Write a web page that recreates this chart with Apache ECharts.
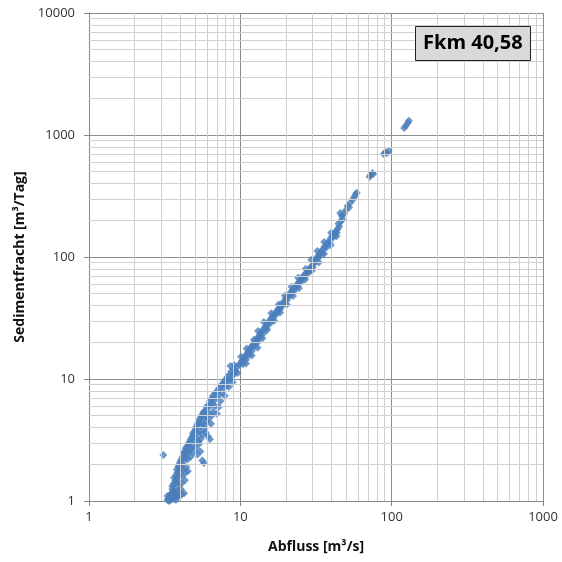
<!DOCTYPE html>
<html>
<head>
<meta charset="utf-8">
<script src="https://cdn.jsdelivr.net/npm/echarts@6/dist/echarts.min.js"></script>
<style>
  html, body { margin: 0; padding: 0; background: #fff; }
  #chart { width: 562px; height: 562px; }
</style>
</head>
<body>
<div id="chart"></div>
<script>
// [Abfluss m3/s, Sedimentfracht m3/Tag]
const lowBand = [
  [3.3,1.02],[3.35,1.05],[3.4,1.01],[3.45,1.08],[3.5,1.03],[3.55,1.1],[3.6,1.04],[3.42,1.12],
  [3.38,1.0],[3.65,1.07],[3.7,1.12],[3.75,1.02],[3.8,1.09],[3.5,1.15],[3.6,1.2],[3.68,1.18],
  [3.85,1.14],[3.95,1.1],[4.1,1.13],[4.25,1.16],[3.3,1.1],[3.55,1.25],[3.72,1.27],[3.9,1.22],
  [4.05,1.25],[3.55,1.32],[3.62,1.38],[3.7,1.45],[3.78,1.5],[3.85,1.42],[3.95,1.36],[4.1,1.4],
  [4.3,1.48],[3.65,1.55],[3.75,1.62],[3.82,1.7],[3.9,1.58],[4.0,1.65],[4.15,1.6],[4.35,1.72],
  [3.8,1.8],[3.88,1.9],[3.95,1.78],[4.05,1.86],[4.2,1.82],[4.4,1.9],[4.5,1.75],[3.92,1.98],
  [4.1,2.0],[4.0,2.1],[4.08,2.2],[4.15,2.3],[4.25,2.15],[4.35,2.25],[4.5,2.2],[4.7,2.3],
  [5.6,2.15],[5.75,2.05],[4.2,2.45],[4.28,2.55],[4.38,2.4],[4.5,2.5],[4.65,2.6],[4.85,2.5],
  [5.2,2.4],[5.45,2.55],[4.35,2.7],[4.45,2.8],[4.55,2.9],[4.7,2.75],[4.9,2.85],[5.1,2.7],
  [5.35,2.95],[3.1,2.38]
];
const midBand = [
  [4.6,3.05],[4.7,3.2],[4.8,3.35],[4.95,3.15],[5.1,3.3],[5.3,3.1],[5.5,3.25],[6.3,3.2],
  [6.1,3.4],[4.85,3.55],[4.95,3.7],[5.05,3.85],[5.2,3.6],[5.4,3.75],[5.6,3.5],[5.8,3.9],
  [5.9,3.65],[5.1,4.05],[5.2,4.25],[5.3,4.45],[5.45,4.15],[5.6,4.35],[5.8,4.2],[6.0,4.5],
  [6.4,4.3],[5.4,4.7],[5.5,4.9],[5.6,5.1],[5.75,4.8],[5.95,5.0],[6.2,4.75],[6.5,5.05],
  [5.7,5.35],[5.85,5.5],[6.1,5.3],[6.6,5.4],[7.0,5.2],[6.0,5.8],[6.1,6.1],[6.3,6.0],
  [6.5,6.3],[6.8,6.0],[7.2,5.9],[6.3,6.6],[6.45,6.9],[6.7,6.7],[7.0,7.0],[7.4,6.6],
  [6.6,7.3],[6.8,7.6],[7.0,7.9],[7.2,7.4],[7.6,7.7],[7.9,7.3],[7.2,8.3],[7.4,8.7],
  [7.6,9.1],[7.85,8.5],[8.1,8.9],[8.4,8.6],[7.8,9.5],[8.0,9.9],[8.3,9.6],[8.6,10.0],
  [8.9,9.4],[8.2,10.4],[8.5,10.9],[8.8,10.6],[9.1,11.0],[8.7,11.5],[9.0,12.0],[9.3,11.6],
  [9.6,11.2],[8.6,12.8],[9.5,12.5],[9.8,13.1],[10.1,13.6],[10.4,13.2],[10.3,14.2],[10.6,14.8],
  [10.9,14.4],[10.8,15.5],[11.1,16.1],[11.4,15.7],[11.3,16.8],[11.6,17.5],[11.9,17.0],[11.8,18.3],
  [12.1,19.0],[12.4,18.5],[12.3,19.8],[12.7,20.5],[13.0,19.9],[12.9,21.4],[13.2,22.3],[13.5,21.8],
  [13.5,23.4],[13.8,24.4],[14.2,23.7],[14.2,25.6],[14.6,26.8],[14.9,26.0],[15.0,28.0],[15.4,29.3],
  [15.7,28.5],[15.8,30.7],[16.2,32.0],[16.5,31.2],[16.7,33.6],[17.1,35.0],[17.4,34.1],[17.6,36.6],
  [18.0,38.2],[18.3,37.3],[18.6,39.8],
  [10.9,13.4],[11.9,15.6],[13.0,18.0],[14.0,21.6],[15.0,25.2],[16.7,30.0],[18.3,35.0],
  [9.1,13.0],[10.1,15.2],[11.0,17.8],[12.3,21.0],[13.1,24.8],[14.3,29.3],[16.0,34.6]
];
const highBand = [
  [18.9,41.5],[19.3,40.6],[19.5,43.4],[19.9,45.3],[20.3,44.2],[20.6,47.4],[21.0,49.5],[21.4,48.3],
  [21.7,51.8],[22.2,54.0],[22.6,52.7],[23.0,56.5],[23.5,59.0],[23.9,57.6],[24.3,61.7],[24.8,64.5],
  [25.3,63.0],[25.7,67.4],[26.2,70.4],[26.8,68.8],[27.2,73.6],[27.8,76.9],[28.4,75.1],[28.9,80.4],
  [29.5,84.0],[30.1,82.1],[30.6,87.8],[31.0,92],[31.8,96],[32.3,101],[33.0,99],[33.4,106],
  [34.2,111],[34.8,108],[35.3,117],[36.1,122],[36.9,119],[37.4,128],[38.3,134],[39.0,131],
  [39.5,142],[40.4,148],[41.2,145],[41.7,155],[42.6,162],[43.4,158],[44.0,170],[45.0,178],
  [44.5,188],[46.2,195],[47.2,205],[46.8,218],[45.7,229],[48.5,226],[49.8,242],[51.0,262],
  [52.3,255],[53.5,280],[55.5,298],[56.8,312],[57.8,327],[58.8,336],[71.5,455],[72.6,470],
  [74.5,489],[75.5,478],[88.5,699],[91.0,722],[93.0,710],[95.5,739],[121,1141],[124,1190],
  [127.7,1254],[130,1310],
  [20.3,40.8],[22.3,48.0],[24.4,55.5],[26.8,65.5],[29.7,77.0],[33.0,90.0],[35.7,106],[39.5,125],[43.2,148],
  [17.9,40.8],[19.7,48.2],[21.8,57.0],[24.1,67.6],[27.0,80.0],[29.4,95.0],[32.3,112],[35.8,133],[39.8,158]
];

// minor gridline positions
const xMinor = [2,3,4,5,6,7,8,9,20,30,40,50,60,70,80,90,200,300,400,500,600,700,800,900];
const yMinor = [2,3,4,5,6,7,8,9,20,30,40,50,60,70,80,90,200,300,400,500,600,700,800,900,
  2000,3000,4000,5000,6000,7000,8000,9000];

const font = 'Open Sans';
const chart = echarts.init(document.getElementById('chart'));
chart.setOption({
  backgroundColor: '#fff',
  animation: false,
  title: {
    text: 'Fkm 40,58',
    left: 415,
    top: 26,
    padding: [7, 8, 8, 8],
    backgroundColor: '#d9d9d9',
    borderColor: '#222',
    borderWidth: 1,
    textStyle: { fontFamily: font, fontSize: 20, fontWeight: 'bold', color: '#000' }
  },
  grid: { left: 89, right: 19, top: 13, bottom: 61 },
  xAxis: {
    type: 'log',
    logBase: 10,
    min: 1,
    max: 1000,
    name: 'Abfluss [m³/s]',
    nameLocation: 'middle',
    nameGap: 39,
    nameTextStyle: { fontFamily: font, fontSize: 14, fontWeight: 'bold', color: '#111' },
    axisLine: { lineStyle: { color: '#868686' } },
    axisTick: { show: true, length: 5, lineStyle: { color: '#868686' } },
    axisLabel: { fontFamily: font, fontSize: 13, color: '#333', margin: 10, formatter: v => String(v) },
    splitLine: { show: true, lineStyle: { color: '#8c8c8c', width: 1 } }
  },
  yAxis: {
    type: 'log',
    logBase: 10,
    min: 1,
    max: 10000,
    name: 'Sedimentfracht [m³/Tag]',
    nameLocation: 'middle',
    nameRotate: 90,
    nameGap: 62,
    nameTextStyle: { fontFamily: font, fontSize: 14, fontWeight: 'bold', color: '#111' },
    axisLine: { show: true, lineStyle: { color: '#868686' } },
    axisTick: { show: true, length: 5, lineStyle: { color: '#868686' } },
    axisLabel: { fontFamily: font, fontSize: 13, color: '#333', margin: 14, formatter: v => String(v) },
    splitLine: { show: true, lineStyle: { color: '#8c8c8c', width: 1 } }
  },
  series: [
    {
      type: 'scatter',
      data: [],
      z: 1,
      silent: true,
      markLine: {
        silent: true,
        symbol: 'none',
        label: { show: false },
        lineStyle: { color: '#d0d0d0', width: 1, type: 'solid' },
        data: xMinor.map(v => ({ xAxis: v })).concat(yMinor.map(v => ({ yAxis: v })))
      }
    },
    {
      type: 'scatter',
      z: 3,
      symbol: 'diamond',
      symbolSize: 8,
      itemStyle: { color: '#4a7ebb' },
      data: lowBand.concat(midBand, highBand)
    }
  ]
});
</script>
</body>
</html>
